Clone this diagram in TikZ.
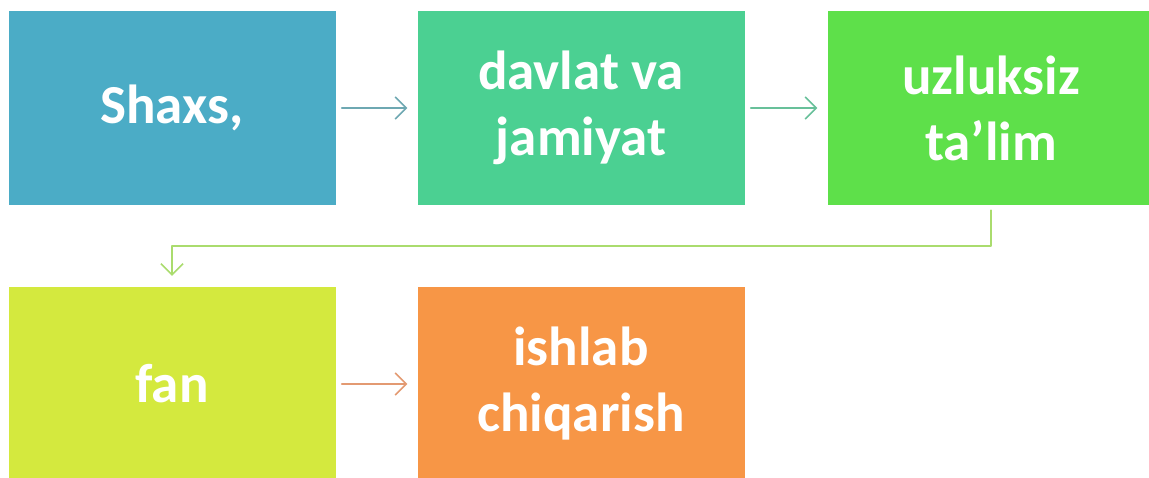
\documentclass[tikz,border=0pt]{standalone}
\usepackage{fontspec}
\setmainfont{Carlito}
\usepackage{xcolor}
\usepackage{tikz}
\usetikzlibrary{arrows.meta,calc}
\definecolor{boxblue}{HTML}{4BACC6}
\definecolor{boxteal}{HTML}{4BD092}
\definecolor{boxgreen}{HTML}{5EE04A}
\definecolor{boxlime}{HTML}{D4E93E}
\definecolor{boxorange}{HTML}{F79646}
\definecolor{arrblue}{HTML}{6EA8B2}
\definecolor{arrteal}{HTML}{68C09A}
\definecolor{arrgreen}{HTML}{AADC6E}
\definecolor{arrorange}{HTML}{E39A72}
\begin{document}
\begin{tikzpicture}[x=1pt,y=-1pt,line cap=round,line join=round,
  box/.style={minimum width=327pt,minimum height=194pt,inner sep=0pt,
    text=white,font=\fontsize{55}{66}\selectfont\bfseries,align=center},
  link/.style={line width=1.6pt,-{Straight Barb[length=11pt,width=22pt,line width=1.6pt]},
    shorten <=6pt,shorten >=10pt}]
\useasboundingbox (0,0) rectangle (1149,477);
\clip (0,0) rectangle (1149,477);
\node [box,fill=boxblue] (shaxs) at (172,108) {Shaxs,};
\node [box,fill=boxteal] (davlat) at (581,108) {davlat va\\jamiyat};
\node [box,fill=boxgreen] (talim) at (991,108) {uzluksiz\\ta’lim};
\node [box,fill=boxlime] (fan) at (172,384) {fan};
\node [box,fill=boxorange] (ishlab) at (581,384) {ishlab\\chiqarish};
\coordinate (turn) at (991,246);
\draw [link,draw=arrblue] (shaxs) -- (davlat);
\draw [link,draw=arrteal] (davlat) -- (talim);
\draw [link,draw=arrgreen,shorten <=5pt,shorten >=11pt] (talim.south) -- (turn) -| (fan.north);
\draw [link,draw=arrorange] (fan) -- (ishlab);
\end{tikzpicture}
\end{document}
